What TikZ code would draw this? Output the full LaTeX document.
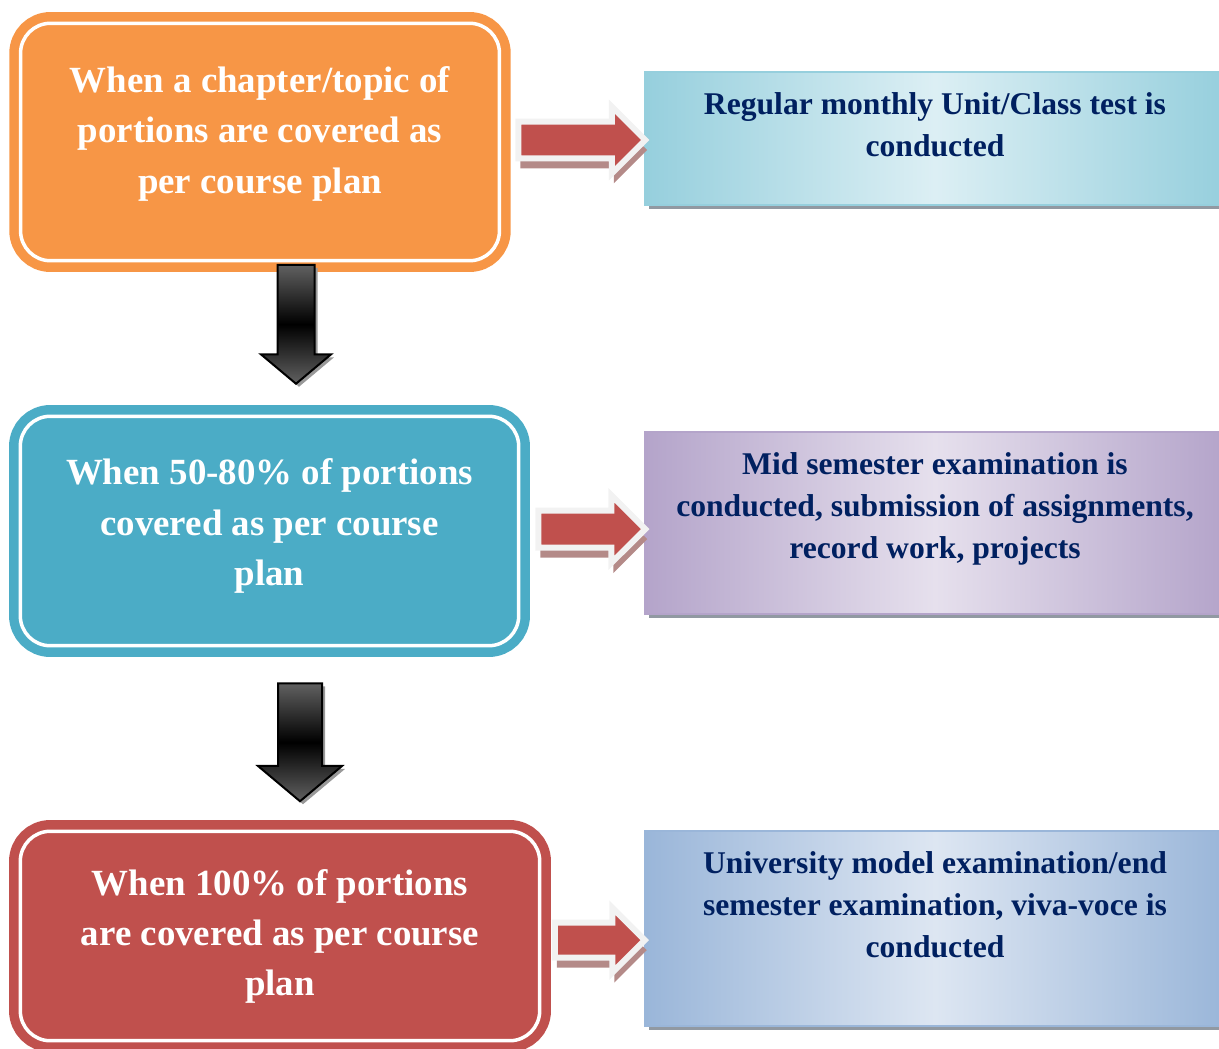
\documentclass[tikz,border=0pt]{standalone}
\usepackage{fontspec}
\setmainfont{Liberation Serif}
\usetikzlibrary{shapes.arrows,shadows}

\definecolor{planorange}{HTML}{F79646}
\definecolor{planblue}{HTML}{4BACC6}
\definecolor{planred}{HTML}{C0504D}
\definecolor{testlight}{HTML}{DCEFF4}
\definecolor{testdark}{HTML}{96CFDD}
\definecolor{midlight}{HTML}{E6E0ED}
\definecolor{middark}{HTML}{B4A4CA}
\definecolor{unilight}{HTML}{DDE6F2}
\definecolor{unidark}{HTML}{9AB6D9}
\definecolor{navytext}{HTML}{002060}
\definecolor{arrowrim}{HTML}{F2F2F2}
\definecolor{arrowshade}{HTML}{B48A88}
\definecolor{boxshade}{HTML}{9199A2}

\tikzset{
  stagebox/.style={draw=#1, fill=#1, double=white, double distance=0.07cm,
    line width=0.19cm, rounded corners=0.6cm, inner sep=0pt,
    text=white, align=center, font=\fontsize{21}{28.5}\selectfont\bfseries},
  resultbox/.style n args={3}{draw=#1, line width=0.04cm, inner sep=0pt,
    minimum width=11.6cm, left color=#1, right color=#1, middle color=#2,
    drop shadow={shadow xshift=0.07cm, shadow yshift=-0.09cm, fill=#3, opacity=1}},
  resulttext/.style={anchor=north, inner sep=0pt, text=navytext, align=center,
    font=\fontsize{18}{24}\selectfont\bfseries},
  nextarrow/.style={single arrow, draw=arrowrim, fill=planred, line width=0.12cm,
    single arrow head extend=0.3cm, single arrow tip angle=90, inner sep=0.31cm,
    drop shadow={shadow xshift=0.04cm, shadow yshift=-0.2cm, fill=arrowshade, opacity=1}},
  downarrow/.style={single arrow, shape border rotate=270, draw=black,
    line width=0.04cm, single arrow tip angle=100,
    top color=black!62, bottom color=black!62, middle color=black,
    drop shadow={shadow xshift=0.06cm, shadow yshift=-0.06cm, fill=black!40, opacity=1}}
}

\begin{document}
\begin{tikzpicture}[x=0.02cm, y=-0.02cm]
\clip (0,0) rectangle (1219,1048);
% stages
\node[stagebox=planorange, minimum width=9.58cm, minimum height=4.75cm, text depth=0.48cm] (stage1) at (260,142)
  {When a chapter/topic of\\portions are covered as\\per course plan};
\node[stagebox=planblue, minimum width=9.97cm, minimum height=4.59cm, text depth=0.36cm] (stage2) at (269.5,531)
  {When 50-80\% of portions\\covered as per course\\plan};
\node[stagebox=planred, minimum width=10.39cm, minimum height=4.19cm] (stage3) at (280,936)
  {When 100\% of portions\\are covered as per course\\plan};
% down arrows
\node[downarrow, minimum height=2.38cm, inner sep=0.35cm, single arrow head extend=0.33cm] (down1) at (296,316.5) {};
\node[downarrow, minimum height=2.36cm, inner sep=0.42cm, single arrow head extend=0.4cm] (down2) at (300,733) {};
% results
\node[resultbox={testdark}{testlight}{boxshade}, minimum height=2.66cm] (test) at (935,138.5) {};
\node[resulttext] (testtxt) at ([yshift=-0.42cm]test.north)
  {Regular monthly Unit/Class test is\\conducted};
\node[resultbox={middark}{midlight}{boxshade}, minimum height=3.64cm] (mid) at (935,523) {};
\node[resulttext] (midtxt) at ([yshift=-0.42cm]mid.north)
  {Mid semester examination is\\conducted, submission of assignments,\\record work, projects};
\node[resultbox={unidark}{unilight}{boxshade}, minimum height=3.9cm] (uni) at (935,928.5) {};
\node[resulttext] (unitxt) at ([yshift=-0.42cm]uni.north)
  {University model examination/end\\semester examination, viva-voce is\\conducted};
% arrows to results
\node[nextarrow, minimum height=2.54cm] (go1) at (572.5,140) {};
\node[nextarrow, minimum height=2.14cm, single arrow head extend=0.31cm] (go2) at (582.5,529) {};
\node[nextarrow, minimum height=1.8cm, inner sep=0.29cm] (go3) at (591,940) {};
\end{tikzpicture}
\end{document}
